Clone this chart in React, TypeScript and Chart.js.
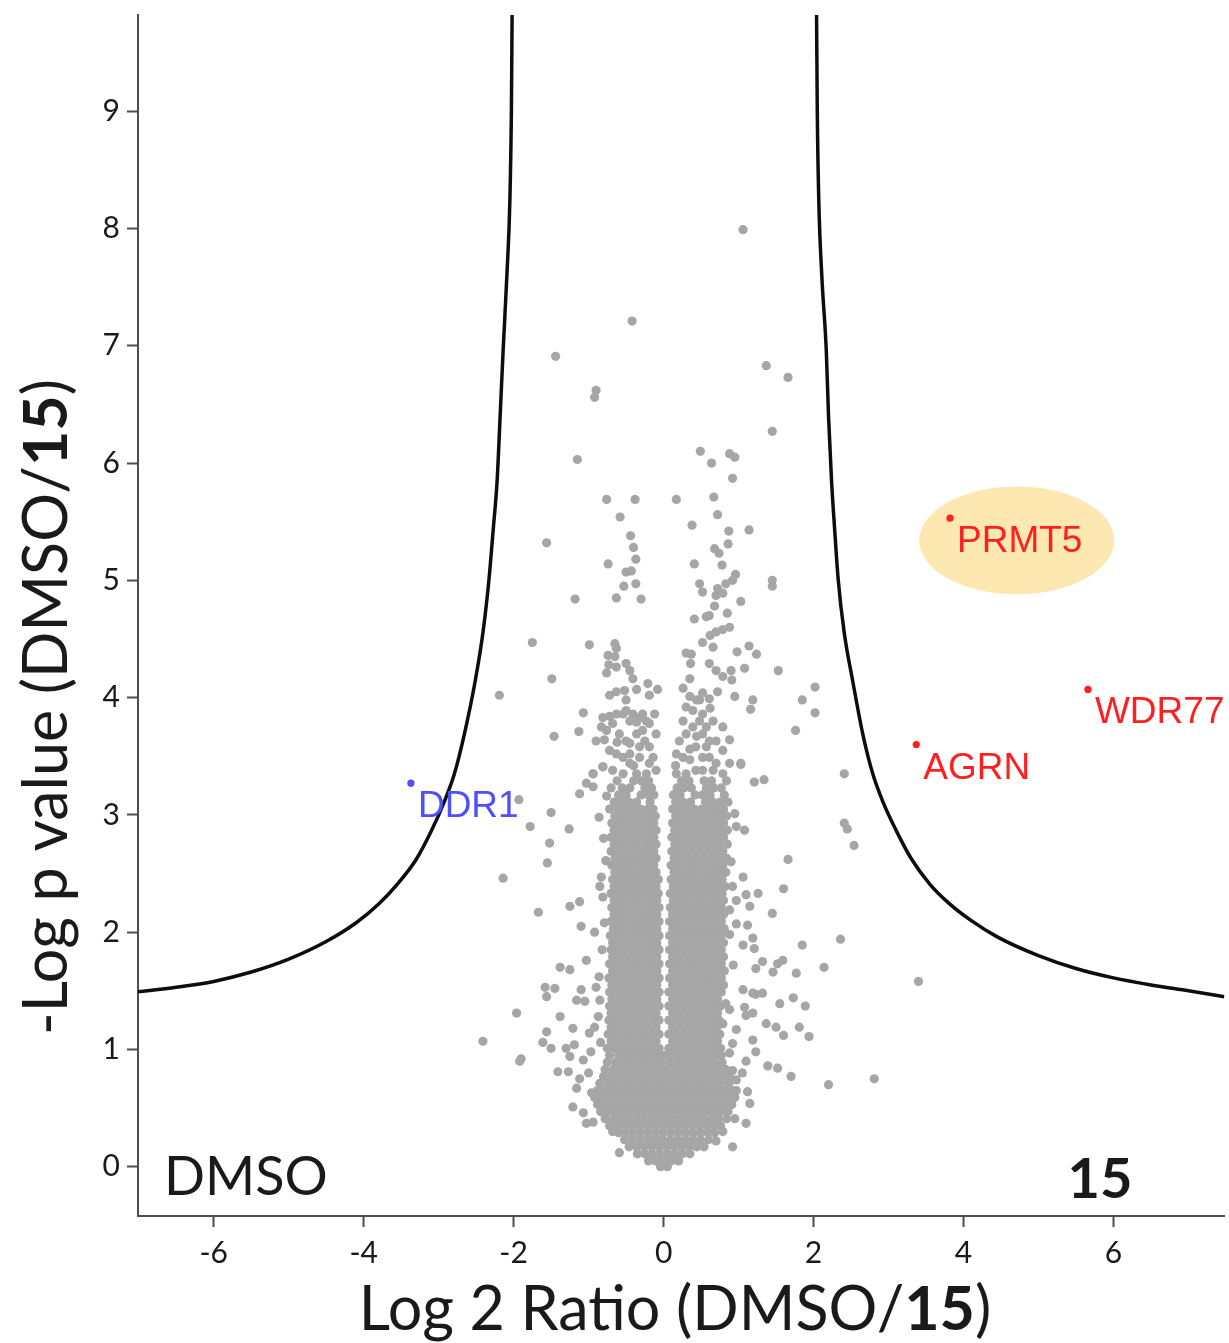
import React, { useEffect, useRef } from "react";
import { Chart, registerables } from "chart.js";

Chart.register(...registerables);

// ---------- axes ----------
const X_MIN = -7.01;
const X_MAX = 7.48;
const Y_MIN = -0.42;
const Y_MAX = 9.82;
const xTickValues = [-6, -4, -2, 0, 2, 4, 6];
const yTickValues = [0, 1, 2, 3, 4, 5, 6, 7, 8, 9];

// ---------- significance threshold curve ----------
const curveLeft: [number, number][] = [
  [-7.03, 1.49], [-6.5, 1.53], [-6.0, 1.58], [-5.5, 1.66], [-5.0, 1.77], [-4.5, 1.92], [-4.1, 2.08],
  [-3.8, 2.24], [-3.55, 2.41], [-3.3, 2.62], [-3.1, 2.86], [-2.92, 3.12], [-2.79, 3.35], [-2.66, 3.68],
  [-2.51, 4.15], [-2.41, 4.55], [-2.33, 5.0], [-2.27, 5.45], [-2.22, 5.85], [-2.18, 6.4], [-2.14, 6.96],
  [-2.09, 7.6], [-2.05, 8.24], [-2.03, 9.0], [-2.02, 9.85],
];
const curveRight: [number, number][] = [
  [2.04, 9.85], [2.05, 9.0], [2.07, 8.24], [2.11, 7.6], [2.17, 6.96], [2.2, 6.4], [2.24, 5.85],
  [2.28, 5.45], [2.33, 5.0], [2.41, 4.55], [2.52, 4.15], [2.66, 3.68], [2.79, 3.35], [2.92, 3.12],
  [3.1, 2.87], [3.3, 2.63], [3.55, 2.41], [3.8, 2.25], [4.1, 2.1], [4.45, 1.96], [5.0, 1.8],
  [5.5, 1.69], [6.0, 1.61], [6.5, 1.55], [7.0, 1.5], [7.48, 1.45],
];

// ---------- highlighted proteins ----------
const geneNames = ["PRMT5", "WDR77", "AGRN", "DDR1"];
const geneX = [3.82, 5.66, 3.37, -3.37];
const geneY = [5.53, 4.07, 3.6, 3.27];
const geneColors = ["#ff1f1f", "#ff1f1f", "#ff1f1f", "#4f4fff"];

// highlight ellipse around PRMT5 (centre and radii in data units)
const ellipseCenter = [4.71, 5.34];
const ellipseRadii = [1.3, 0.46];

// ---------- scattered proteins (outliers) ----------
const grayUpper: [number, number][] = [
  [1.06, 7.99], [-0.42, 7.21], [-1.44, 6.91], [1.37, 6.83], [1.66, 6.73], [-0.9, 6.62], [-0.92, 6.56],
  [1.45, 6.27], [-1.15, 6.03], [0.49, 6.1], [0.64, 6.0], [0.88, 6.08], [0.95, 6.05], [0.92, 5.87],
  [-0.76, 5.69], [-0.38, 5.69], [0.17, 5.69], [0.67, 5.71],
  [-0.58, 5.54], [0.72, 5.56], [0.38, 5.47], [0.87, 5.42], [1.14, 5.43], [-1.56, 5.32], [-0.44, 5.38],
  [-0.4, 5.28], [-0.37, 5.18], [0.68, 5.27], [0.86, 5.31], [0.74, 5.23], [-0.74, 5.14], [0.41, 5.14],
  [0.78, 5.13], [-0.5, 5.07], [-0.43, 5.08], [-0.53, 4.95], [-0.37, 4.97], [-0.63, 4.85], [-0.3, 4.84],
  [-1.18, 4.84], [0.96, 5.05], [0.92, 5.0], [0.83, 4.97], [0.48, 4.97], [0.52, 4.9], [0.72, 4.93],
  [0.7, 4.87], [0.79, 4.89], [1.03, 4.82], [1.45, 5.0], [1.45, 4.95], [0.68, 4.78], [0.61, 4.7],
  [0.57, 4.69], [0.85, 4.72], [0.41, 4.67], [0.88, 4.6], [0.79, 4.58], [0.7, 4.56], [0.62, 4.53],
  [0.52, 4.47], [0.66, 4.43], [-1.75, 4.47], [-0.99, 4.45], [-0.65, 4.46], [-0.63, 4.42], [-0.74, 4.36],
  [-0.65, 4.35], [0.3, 4.38], [0.37, 4.37], [0.36, 4.29], [0.98, 4.39], [1.14, 4.44], [1.24, 4.37],
  [0.61, 4.29], [0.7, 4.23], [0.79, 4.18], [0.9, 4.23], [0.91, 4.15], [1.08, 4.25], [1.53, 4.23],
  [-0.73, 4.28], [-0.76, 4.21], [-0.63, 4.26], [-0.5, 4.29], [-0.45, 4.23], [-0.41, 4.16], [-1.49, 4.16],
  [-2.19, 4.02], [-0.21, 4.12], [-0.08, 4.07], [-0.36, 4.07], [-0.72, 4.02], [-0.63, 4.05], [-0.52, 4.06],
  [-0.19, 4.02], [-0.5, 3.98], [-1.07, 3.87], [0.35, 4.16], [0.26, 4.08], [0.35, 4.01], [0.44, 3.98],
  [0.52, 4.04], [0.61, 3.99], [0.72, 4.05], [0.95, 4.01], [1.19, 3.98], [1.16, 3.9], [1.85, 3.98],
  [2.02, 4.09], [2.02, 3.87], [1.76, 3.72], [2.41, 3.35], [1.03, 3.44], [0.88, 3.64], [-1.46, 3.67],
  [-1.13, 3.71],
];

// semi-dense clusters just above the two lobes
const grayUpperClusters: [number, number][] = [
  [-0.5, 3.89], [-0.41, 3.86], [-0.32, 3.83], [-0.23, 3.8], [-0.36, 3.79], [-0.45, 3.8], [-0.28, 3.86],
  [-0.19, 3.78], [-0.54, 3.86], [-0.81, 3.83], [-0.72, 3.84], [-0.63, 3.86], [-0.83, 3.75], [-0.5, 3.63],
  [-0.45, 3.61], [-0.32, 3.58], [-0.19, 3.58], [-0.25, 3.63], [-0.9, 3.63], [-0.79, 3.64], [-0.72, 3.55],
  [-0.63, 3.52], [-0.54, 3.49], [-0.45, 3.44], [-0.32, 3.49], [-0.19, 3.44], [-0.14, 3.49], [-0.81, 3.41],
  [-0.94, 3.35], [-0.68, 3.38], [-0.54, 3.35], [-0.36, 3.35], [-0.23, 3.35], [-0.1, 3.38], [-0.76, 3.72],
  [-0.59, 3.69], [-0.68, 3.78], [-0.36, 3.69], [-0.1, 3.69], [-0.12, 3.86], [-0.28, 3.72], [-0.45, 3.52],
  [-0.62, 3.62], [-0.4, 3.42],
  [0.3, 3.92], [0.39, 3.89], [0.52, 3.86], [0.48, 3.8], [0.57, 3.75], [0.39, 3.75], [0.3, 3.69],
  [0.52, 3.69], [0.61, 3.63], [0.7, 3.63], [0.43, 3.58], [0.57, 3.58], [0.17, 3.52], [0.26, 3.49],
  [0.35, 3.47], [0.52, 3.49], [0.61, 3.49], [0.7, 3.44], [0.52, 3.38], [0.66, 3.38], [0.79, 3.35],
  [0.3, 3.35], [0.17, 3.35], [0.43, 3.38], [0.66, 3.8], [0.79, 3.75], [0.26, 3.8], [0.21, 3.63],
  [0.79, 3.55], [0.88, 3.44], [0.48, 3.98], [0.35, 3.56], [0.62, 3.91], [0.44, 3.67], [0.16, 3.42],
];

const grayLeftFringe: [number, number][] = [
  [-1.93, 3.13], [-1.5, 3.02], [-1.78, 2.9], [-1.26, 2.88], [-1.52, 2.76], [-1.55, 2.59], [-2.14, 2.46],
  [-1.67, 2.17], [-1.25, 2.22], [-1.12, 2.26], [-1.1, 2.05], [-0.92, 2.0], [-1.03, 1.76], [-1.38, 1.7],
  [-1.25, 1.68], [-1.58, 1.53], [-1.45, 1.52], [-1.1, 1.51], [-0.9, 1.53], [-1.03, 3.27], [-0.94, 3.24],
  [-1.12, 3.18], [-0.76, 3.16], [-0.86, 2.98], [-0.94, 3.35], [-0.81, 3.41], [-0.77, 2.61], [-0.83, 2.47],
  [-0.85, 2.39], [-0.81, 2.3], [-0.79, 2.08], [-0.82, 1.85], [-0.86, 1.62], [-0.8, 2.8],
  [-2.41, 1.07], [-1.96, 1.31], [-1.9, 0.92], [-1.92, 0.9], [-1.56, 1.45], [-1.56, 1.15], [-1.61, 1.06],
  [-1.5, 1.01], [-1.38, 1.28], [-1.41, 0.81], [-1.27, 0.81], [-1.16, 1.42], [-1.05, 1.41], [-1.21, 1.18],
  [-1.12, 0.75], [-1.16, 0.67], [-1.3, 1.01], [-1.19, 1.04], [-1.25, 0.94], [-1.07, 0.91], [-1.21, 0.51],
  [-1.07, 0.46], [-1.03, 0.37], [-0.94, 0.38], [-0.85, 1.42], [-0.87, 1.28], [-0.99, 1.14], [-0.92, 1.19],
  [-0.59, 0.12], [-0.68, 0.3], [-0.97, 0.98], [-0.84, 1.06], [-1.0, 0.8], [-0.96, 0.63],
];

const grayRightFringe: [number, number][] = [
  [1.03, 3.43], [1.21, 3.28], [1.34, 3.3], [2.41, 2.93], [2.45, 2.88], [2.54, 2.74], [1.66, 2.62],
  [1.6, 2.37], [1.45, 2.16], [2.36, 1.94], [1.85, 1.89], [2.14, 1.7], [1.59, 1.76], [1.52, 1.73],
  [1.32, 1.75], [1.23, 1.69], [1.46, 1.66], [1.77, 1.65], [1.1, 2.32], [1.26, 2.33], [1.15, 2.22],
  [0.97, 2.27], [0.88, 2.19], [0.97, 2.07], [1.12, 2.06], [1.19, 1.95], [1.06, 1.89], [1.21, 1.86],
  [0.95, 3.01], [0.97, 2.9], [1.08, 2.87], [1.06, 2.47], [0.92, 2.39], [1.06, 1.51], [1.19, 1.48],
  [1.32, 1.48], [1.55, 1.39], [1.73, 1.44], [1.89, 1.37], [0.9, 2.6], [0.93, 1.72], [0.88, 1.98],
  [1.23, 1.47], [1.08, 1.36], [1.37, 1.22], [1.5, 1.19], [1.6, 1.12], [1.81, 1.19], [1.94, 1.11],
  [1.39, 0.86], [1.52, 0.84], [1.7, 0.77], [2.2, 0.7], [2.81, 0.75], [3.4, 1.58], [1.1, 1.29],
  [1.19, 1.31], [0.97, 1.17], [1.19, 1.08], [1.23, 0.98], [1.1, 0.9], [0.97, 0.65], [1.12, 0.64],
  [1.15, 0.54], [1.1, 0.37], [0.95, 0.41], [0.92, 0.17], [0.79, 0.3], [0.7, 0.22], [0.83, 1.39],
  [0.88, 1.34], [0.79, 1.22], [0.92, 1.05], [0.88, 0.97], [0.97, 0.74], [0.92, 0.82], [1.05, 0.8],
];

// ---------- dense core: rows of [-log p, log2 ratios] ----------
const coreBaseRows: [number, number[]][] = [
  [0.0, [-0.04, 0.05]],
  [0.05, [-0.2, -0.1, 0.0, 0.1, 0.2]],
  [0.11, [-0.35, -0.25, -0.15, -0.05, 0.05, 0.15, 0.25, 0.35]],
  [0.17, [-0.46, -0.36, -0.26, -0.16, -0.06, 0.04, 0.14, 0.24, 0.34, 0.44, 0.54]],
  [0.23, [-0.52, -0.42, -0.32, -0.22, -0.12, -0.02, 0.09, 0.19, 0.29, 0.39, 0.49, 0.6]],
  [0.29, [-0.6, -0.5, -0.4, -0.3, -0.2, -0.1, 0.0, 0.1, 0.2, 0.3, 0.4, 0.5, 0.6, 0.68]],
  [0.35, [-0.72, -0.62, -0.52, -0.42, -0.32, -0.22, -0.12, -0.02, 0.08, 0.18, 0.28, 0.38, 0.48, 0.58, 0.68, 0.76]],
  [0.41, [-0.78, -0.67, -0.57, -0.47, -0.37, -0.27, -0.17, -0.07, 0.03, 0.13, 0.23, 0.33, 0.43, 0.53, 0.63, 0.73, 0.84]],
  [0.47, [-0.84, -0.74, -0.64, -0.54, -0.44, -0.34, -0.24, -0.14, -0.04, 0.06, 0.16, 0.26, 0.36, 0.46, 0.56, 0.66, 0.76, 0.86]],
  [0.53, [-0.88, -0.79, -0.69, -0.59, -0.49, -0.39, -0.29, -0.19, -0.09, 0.01, 0.11, 0.21, 0.31, 0.41, 0.51, 0.61, 0.71, 0.81, 0.91]],
  [0.59, [-0.92, -0.83, -0.73, -0.63, -0.53, -0.43, -0.33, -0.23, -0.13, -0.03, 0.07, 0.17, 0.27, 0.37, 0.47, 0.57, 0.67, 0.77, 0.87, 0.95]],
  [0.65, [-0.88, -0.78, -0.68, -0.58, -0.48, -0.38, -0.28, -0.18, -0.08, 0.02, 0.12, 0.22, 0.32, 0.42, 0.52, 0.62, 0.72, 0.82, 0.92]],
  [0.71, [-0.85, -0.74, -0.64, -0.54, -0.44, -0.34, -0.24, -0.14, -0.04, 0.06, 0.16, 0.26, 0.36, 0.46, 0.56, 0.66, 0.76, 0.87]],
  [0.77, [-0.8, -0.7, -0.6, -0.5, -0.4, -0.3, -0.2, -0.1, 0.0, 0.1, 0.2, 0.3, 0.4, 0.5, 0.6, 0.7, 0.8, 0.88]],
  [0.83, [-0.78, -0.67, -0.57, -0.47, -0.37, -0.27, -0.17, -0.07, 0.03, 0.13, 0.23, 0.33, 0.43, 0.53, 0.63, 0.73, 0.83]],
  [0.89, [-0.75, -0.64, -0.54, -0.44, -0.34, -0.24, -0.14, -0.04, 0.07, 0.17, 0.27, 0.37, 0.47, 0.57, 0.67, 0.78]],
  [0.95, [-0.72, -0.6, -0.5, -0.4, -0.3, -0.2, -0.1, 0.0, 0.1, 0.2, 0.3, 0.4, 0.5, 0.6, 0.7, 0.77]],
];

const leftLobeRows: [number, number[]][] = [
  [1.01, [-0.75, -0.65, -0.55, -0.45, -0.35, -0.25, -0.15, -0.06]],
  [1.07, [-0.7, -0.6, -0.5, -0.4, -0.3, -0.2, -0.1]],
  [1.13, [-0.74, -0.65, -0.55, -0.45, -0.35, -0.25, -0.15, -0.06]],
  [1.19, [-0.7, -0.6, -0.5, -0.4, -0.3, -0.2, -0.1]],
  [1.25, [-0.73, -0.65, -0.55, -0.45, -0.35, -0.25, -0.15, -0.06]],
  [1.31, [-0.7, -0.6, -0.5, -0.4, -0.3, -0.2, -0.1]],
  [1.37, [-0.72, -0.64, -0.54, -0.44, -0.34, -0.24, -0.14, -0.06]],
  [1.43, [-0.69, -0.59, -0.49, -0.39, -0.29, -0.19, -0.09]],
  [1.49, [-0.72, -0.64, -0.54, -0.44, -0.34, -0.24, -0.14, -0.06]],
  [1.55, [-0.69, -0.59, -0.49, -0.39, -0.29, -0.19, -0.09]],
  [1.61, [-0.73, -0.64, -0.54, -0.44, -0.34, -0.24, -0.14, -0.06]],
  [1.67, [-0.68, -0.58, -0.48, -0.38, -0.28, -0.18, -0.09]],
  [1.73, [-0.72, -0.63, -0.53, -0.43, -0.33, -0.23, -0.13, -0.06]],
  [1.79, [-0.68, -0.58, -0.48, -0.38, -0.28, -0.18, -0.09]],
  [1.85, [-0.7, -0.63, -0.53, -0.43, -0.33, -0.23, -0.13, -0.06]],
  [1.91, [-0.68, -0.58, -0.48, -0.38, -0.28, -0.18, -0.09]],
  [1.97, [-0.71, -0.62, -0.52, -0.42, -0.32, -0.22, -0.13, -0.06]],
  [2.03, [-0.67, -0.57, -0.47, -0.37, -0.27, -0.17, -0.09]],
  [2.09, [-0.7, -0.62, -0.52, -0.42, -0.32, -0.22, -0.13, -0.06]],
  [2.15, [-0.66, -0.57, -0.47, -0.37, -0.27, -0.17, -0.09]],
  [2.21, [-0.69, -0.61, -0.51, -0.41, -0.31, -0.21, -0.13, -0.06]],
  [2.27, [-0.66, -0.56, -0.46, -0.36, -0.26, -0.16, -0.09]],
  [2.33, [-0.7, -0.61, -0.51, -0.41, -0.31, -0.21, -0.13, -0.07]],
  [2.39, [-0.66, -0.56, -0.46, -0.36, -0.26, -0.16, -0.1]],
  [2.45, [-0.68, -0.6, -0.5, -0.4, -0.3, -0.2, -0.13, -0.07]],
  [2.51, [-0.65, -0.55, -0.45, -0.35, -0.25, -0.16, -0.1]],
  [2.57, [-0.69, -0.6, -0.5, -0.4, -0.3, -0.2, -0.13]],
  [2.63, [-0.65, -0.55, -0.45, -0.35, -0.25, -0.17, -0.1]],
  [2.69, [-0.7, -0.6, -0.5, -0.4, -0.3, -0.21, -0.13]],
  [2.75, [-0.66, -0.56, -0.46, -0.36, -0.26, -0.17, -0.1]],
  [2.81, [-0.7, -0.61, -0.51, -0.41, -0.31, -0.21, -0.13]],
  [2.87, [-0.66, -0.56, -0.46, -0.36, -0.26, -0.17, -0.1]],
  [2.93, [-0.69, -0.61, -0.51, -0.41, -0.31, -0.21, -0.13]],
  [2.99, [-0.65, -0.56, -0.46, -0.36, -0.26, -0.17, -0.11]],
  [3.05, [-0.72, -0.61, -0.51, -0.41, -0.31, -0.21, -0.14]],
  [3.11, [-0.66, -0.56, -0.46, -0.36, -0.18]],
  [3.17, [-0.6, -0.5, -0.3, -0.2, -0.13]],
  [3.23, [-0.7, -0.55, -0.45, -0.25, -0.16]],
  [3.29, [-0.62, -0.4, -0.3, -0.2]],
];

const rightLobeRows: [number, number[]][] = [
  [1.01, [0.07, 0.17, 0.27, 0.37, 0.47, 0.57, 0.67, 0.76]],
  [1.07, [0.12, 0.22, 0.32, 0.42, 0.52, 0.62, 0.72]],
  [1.13, [0.07, 0.17, 0.27, 0.37, 0.47, 0.57, 0.67, 0.75]],
  [1.19, [0.12, 0.22, 0.32, 0.42, 0.52, 0.62, 0.71]],
  [1.25, [0.07, 0.17, 0.27, 0.37, 0.47, 0.57, 0.67, 0.74]],
  [1.31, [0.12, 0.22, 0.32, 0.42, 0.52, 0.62, 0.72]],
  [1.37, [0.07, 0.17, 0.27, 0.37, 0.47, 0.57, 0.67, 0.76]],
  [1.43, [0.12, 0.22, 0.32, 0.42, 0.52, 0.62, 0.72]],
  [1.49, [0.07, 0.17, 0.27, 0.37, 0.47, 0.57, 0.67, 0.77]],
  [1.55, [0.12, 0.22, 0.32, 0.42, 0.52, 0.62, 0.72, 0.8]],
  [1.61, [0.08, 0.17, 0.27, 0.37, 0.47, 0.57, 0.67, 0.77]],
  [1.67, [0.12, 0.22, 0.32, 0.42, 0.52, 0.62, 0.72, 0.81]],
  [1.73, [0.08, 0.17, 0.27, 0.37, 0.47, 0.57, 0.67, 0.77]],
  [1.79, [0.12, 0.22, 0.32, 0.42, 0.52, 0.62, 0.72, 0.8]],
  [1.85, [0.08, 0.17, 0.27, 0.37, 0.47, 0.57, 0.67, 0.77]],
  [1.91, [0.12, 0.22, 0.32, 0.42, 0.52, 0.62, 0.72, 0.8]],
  [1.97, [0.08, 0.17, 0.27, 0.37, 0.47, 0.57, 0.67, 0.77]],
  [2.03, [0.12, 0.22, 0.32, 0.42, 0.52, 0.62, 0.72, 0.81]],
  [2.09, [0.08, 0.17, 0.27, 0.37, 0.47, 0.57, 0.67, 0.77]],
  [2.15, [0.12, 0.22, 0.32, 0.42, 0.52, 0.62, 0.72, 0.8]],
  [2.21, [0.09, 0.17, 0.27, 0.37, 0.47, 0.57, 0.67, 0.77]],
  [2.27, [0.13, 0.22, 0.32, 0.42, 0.52, 0.62, 0.72, 0.8]],
  [2.33, [0.09, 0.18, 0.28, 0.38, 0.48, 0.58, 0.68, 0.78]],
  [2.39, [0.13, 0.23, 0.33, 0.43, 0.53, 0.63, 0.73, 0.82]],
  [2.45, [0.1, 0.18, 0.28, 0.38, 0.48, 0.58, 0.68, 0.78]],
  [2.51, [0.14, 0.23, 0.33, 0.43, 0.53, 0.63, 0.73, 0.83]],
  [2.57, [0.1, 0.19, 0.29, 0.39, 0.49, 0.59, 0.69, 0.79]],
  [2.63, [0.14, 0.24, 0.34, 0.44, 0.54, 0.64, 0.74, 0.84]],
  [2.69, [0.11, 0.19, 0.29, 0.39, 0.49, 0.59, 0.69, 0.79]],
  [2.75, [0.15, 0.24, 0.34, 0.44, 0.54, 0.64, 0.74, 0.85]],
  [2.81, [0.11, 0.2, 0.3, 0.4, 0.5, 0.6, 0.7, 0.8]],
  [2.87, [0.15, 0.25, 0.35, 0.45, 0.55, 0.65, 0.75, 0.85]],
  [2.93, [0.12, 0.2, 0.3, 0.4, 0.5, 0.6, 0.7, 0.8]],
  [2.99, [0.16, 0.25, 0.35, 0.45, 0.55, 0.65, 0.75, 0.84]],
  [3.05, [0.12, 0.21, 0.31, 0.41, 0.51, 0.61, 0.71, 0.8]],
  [3.11, [0.16, 0.26, 0.36, 0.56, 0.66, 0.76, 0.86]],
  [3.17, [0.13, 0.22, 0.42, 0.52, 0.62, 0.81]],
  [3.23, [0.18, 0.27, 0.37, 0.57, 0.67, 0.77]],
  [3.29, [0.24, 0.34, 0.54, 0.64, 0.84]],
];

// ---------- helpers ----------
const toPts = (arr: [number, number][]) => arr.map(([x, y]) => ({ x, y }));
const rowsToPts = (rows: [number, number[]][]) =>
  rows.flatMap(([y, xs]) => xs.map((x) => ({ x, y })));

const GRAY = "#a6a6a6";
const AXIS = "#4d4d4d";
const TEXT = "#1a1a1a";
const SANS = "Lato, 'Open Sans', sans-serif";
const ARIAL = "'Liberation Sans', Arial, sans-serif";

function drawMixed(
  ctx: CanvasRenderingContext2D,
  parts: { t: string; bold: boolean }[],
  size: number,
  cx: number,
  baseY: number
) {
  const fonts = parts.map((p) => `${p.bold ? "bold " : ""}${size}px ${SANS}`);
  let total = 0;
  const widths = parts.map((p, i) => {
    ctx.font = fonts[i];
    const w = ctx.measureText(p.t).width;
    total += w;
    return w;
  });
  let x = cx - total / 2;
  ctx.textAlign = "left";
  ctx.textBaseline = "alphabetic";
  parts.forEach((p, i) => {
    ctx.font = fonts[i];
    ctx.fillText(p.t, x, baseY);
    x += widths[i];
  });
}

const decorPlugin = {
  id: "decor",
  beforeDatasetsDraw(chart: any) {
    const { ctx, scales } = chart;
    const xs = scales.x;
    const ys = scales.y;
    const cx = xs.getPixelForValue(ellipseCenter[0]);
    const cy = ys.getPixelForValue(ellipseCenter[1]);
    const rx = Math.abs(xs.getPixelForValue(ellipseCenter[0] + ellipseRadii[0]) - cx);
    const ry = Math.abs(ys.getPixelForValue(ellipseCenter[1] + ellipseRadii[1]) - cy);
    ctx.save();
    ctx.fillStyle = "#fde8b2";
    ctx.beginPath();
    ctx.ellipse(cx, cy, rx, ry, 0, 0, Math.PI * 2);
    ctx.fill();
    ctx.restore();
  },
  afterDatasetsDraw(chart: any) {
    const { ctx, scales, chartArea } = chart;
    const xs = scales.x;
    const ys = scales.y;
    ctx.save();
    ctx.font = `37px ${ARIAL}`;
    ctx.textAlign = "left";
    ctx.textBaseline = "alphabetic";
    geneNames.forEach((g, i) => {
      const px = xs.getPixelForValue(geneX[i]);
      const py = ys.getPixelForValue(geneY[i]);
      ctx.fillStyle = geneColors[i];
      ctx.fillText(g, px + 7, py + 34);
    });
    ctx.fillStyle = TEXT;
    ctx.font = `54px ${SANS}`;
    ctx.fillText("DMSO", chartArea.left + 26, chartArea.bottom - 21);
    ctx.font = `bold 56px ${SANS}`;
    ctx.textAlign = "right";
    ctx.fillText("15", chartArea.right - 92, chartArea.bottom - 18);
    ctx.restore();
  },
  afterDraw(chart: any) {
    const { ctx } = chart;
    ctx.save();
    ctx.fillStyle = TEXT;
    drawMixed(
      ctx,
      [
        { t: "Log 2 Ratio (DMSO/", bold: false },
        { t: "15", bold: true },
        { t: ")", bold: false },
      ],
      61,
      675,
      1330
    );
    ctx.translate(67, 707);
    ctx.rotate(-Math.PI / 2);
    drawMixed(
      ctx,
      [
        { t: "-Log p value (DMSO/", bold: false },
        { t: "15", bold: true },
        { t: ")", bold: false },
      ],
      61,
      0,
      0
    );
    ctx.restore();
  },
};

export default function App() {
  const canvasRef = useRef<HTMLCanvasElement | null>(null);

  useEffect(() => {
    if (!canvasRef.current) return;
    const grayPts = [
      ...rowsToPts(coreBaseRows),
      ...rowsToPts(leftLobeRows),
      ...rowsToPts(rightLobeRows),
      ...toPts(grayUpperClusters),
      ...toPts(grayLeftFringe),
      ...toPts(grayRightFringe),
      ...toPts(grayUpper),
    ];
    const genePts = geneNames.map((_, i) => ({ x: geneX[i], y: geneY[i] }));

    const chart = new Chart(canvasRef.current, {
      type: "scatter",
      data: {
        datasets: [
          {
            label: "proteins",
            data: grayPts,
            pointRadius: 4.6,
            pointHoverRadius: 4.6,
            pointBackgroundColor: GRAY,
            pointBorderWidth: 0,
            order: 3,
          },
          {
            label: "left threshold",
            data: toPts(curveLeft),
            showLine: true,
            borderColor: "#0d0d0d",
            borderWidth: 3.5,
            pointRadius: 0,
            cubicInterpolationMode: "monotone",
            order: 2,
          },
          {
            label: "right threshold",
            data: toPts(curveRight),
            showLine: true,
            borderColor: "#0d0d0d",
            borderWidth: 3.5,
            pointRadius: 0,
            cubicInterpolationMode: "monotone",
            order: 2,
          },
          {
            label: "highlighted",
            data: genePts,
            pointRadius: 3.6,
            pointBackgroundColor: geneColors,
            pointBorderWidth: 0,
            order: 1,
          },
        ],
      },
      options: {
        animation: false,
        responsive: false,
        maintainAspectRatio: false,
        events: [],
        layout: { padding: { top: 15, right: 3, left: 0, bottom: 0 } },
        plugins: {
          legend: { display: false },
          tooltip: { enabled: false },
        },
        scales: {
          x: {
            type: "linear",
            min: X_MIN,
            max: X_MAX,
            afterBuildTicks: (s: any) => {
              s.ticks = xTickValues.map((v) => ({ value: v }));
            },
            afterFit: (s: any) => {
              s.height = 127;
              s.paddingLeft = 0;
              s.paddingRight = 0;
            },
            grid: {
              drawOnChartArea: false,
              drawTicks: true,
              tickLength: 11,
              tickColor: AXIS,
              tickWidth: 2,
            },
            border: { display: true, color: AXIS, width: 2 },
            ticks: {
              color: TEXT,
              font: { family: SANS, size: 30 },
              padding: 8,
              maxRotation: 0,
              callback: (v: any) => String(v),
            },
          },
          y: {
            type: "linear",
            min: Y_MIN,
            max: Y_MAX,
            afterBuildTicks: (s: any) => {
              s.ticks = yTickValues.map((v) => ({ value: v }));
            },
            afterFit: (s: any) => {
              s.width = 138;
              s.paddingTop = 0;
              s.paddingBottom = 0;
            },
            grid: {
              drawOnChartArea: false,
              drawTicks: true,
              tickLength: 11,
              tickColor: AXIS,
              tickWidth: 2,
            },
            border: { display: true, color: AXIS, width: 2 },
            ticks: {
              color: TEXT,
              font: { family: SANS, size: 30 },
              padding: 7,
              callback: (v: any) => String(v),
            },
          },
        },
      },
      plugins: [decorPlugin],
    } as any);

    return () => chart.destroy();
  }, []);

  return (
    <div style={{ position: "absolute", left: 0, top: 0, width: 1229, height: 1343, background: "#fff" }}>
      <canvas ref={canvasRef} width={1229} height={1343} style={{ width: 1229, height: 1343 }} />
    </div>
  );
}
